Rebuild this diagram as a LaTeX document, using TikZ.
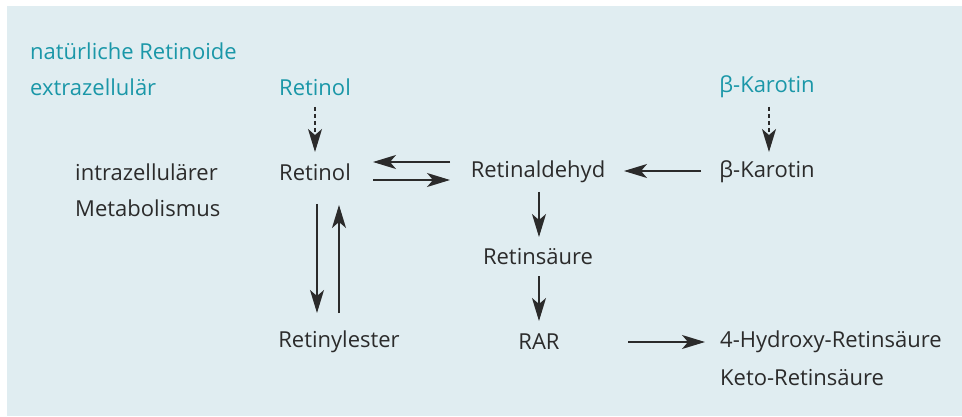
\documentclass[tikz,border=0pt]{standalone}
\usepackage{fontspec}
\setmainfont{Open Sans}
\usetikzlibrary{arrows.meta}
\definecolor{bgblue}{HTML}{E0EDF1}
\definecolor{tealtxt}{HTML}{1A97A8}
\definecolor{darktxt}{HTML}{2B2B2B}
\begin{document}
\begin{tikzpicture}[x=1pt,y=-1pt,
  txt/.style={inner sep=0pt, text=darktxt, font=\fontsize{22}{26}\selectfont},
  ttxt/.style={txt, text=tealtxt},
  arr/.style={draw=darktxt, line width=1.3pt, -{Stealth[length=23pt,width=14pt,inset=6pt]}},
  darr/.style={arr, dash pattern=on 4pt off 3pt}]
\useasboundingbox (0,0) rectangle (962,417);
\fill[bgblue] (7,6) rectangle (962,416);
% headings
\node[ttxt, anchor=west] (h1) at (30,51) {natürliche Retinoide};
\node[ttxt, anchor=west] (h2) at (30,87) {extrazellulär};
\node[ttxt] (rolx) at (315,87) {Retinol};
\node[ttxt] (karx) at (767,87) {β-Karotin};
% intracellular
\node[txt, anchor=west] (i1) at (75,172) {intrazellulärer};
\node[txt, anchor=west] (i2) at (75,208) {Metabolismus};
\node[txt] (rol) at (315,172) {Retinol};
\node[txt] (ald) at (538,172) {Retinaldehyd};
\node[txt] (kar) at (767,172) {β-Karotin};
\node[txt] (rs) at (538,257) {Retinsäure};
\node[txt] (rar) at (539,342) {RAR};
\node[txt] (rye) at (339,342) {Retinylester};
\node[txt, anchor=west] (hy) at (720,342) {4-Hydroxy-Retinsäure};
\node[txt, anchor=west] (ke) at (720,378) {Keto-Retinsäure};
% connectors
\coordinate (d1s) at (315,107); \coordinate (d1e) at (315,152);
\draw[darr] (d1s) -- (d1e);
\coordinate (d2s) at (769,107); \coordinate (d2e) at (769,152);
\draw[darr] (d2s) -- (d2e);
\coordinate (a1s) at (450,162); \coordinate (a1e) at (373,162);
\draw[arr] (a1s) -- (a1e);
\coordinate (a2s) at (373,180); \coordinate (a2e) at (450,180);
\draw[arr] (a2s) -- (a2e);
\coordinate (a3s) at (701,171); \coordinate (a3e) at (624,171);
\draw[arr] (a3s) -- (a3e);
\coordinate (a4s) at (539,192); \coordinate (a4e) at (539,237);
\draw[arr] (a4s) -- (a4e);
\coordinate (a5s) at (539,276); \coordinate (a5e) at (539,321);
\draw[arr] (a5s) -- (a5e);
\coordinate (a6s) at (317,204); \coordinate (a6e) at (317,313);
\draw[arr] (a6s) -- (a6e);
\coordinate (a7s) at (339,313); \coordinate (a7e) at (339,205);
\draw[arr] (a7s) -- (a7e);
\coordinate (a8s) at (628,342); \coordinate (a8e) at (705,342);
\draw[arr] (a8s) -- (a8e);
\end{tikzpicture}
\end{document}
